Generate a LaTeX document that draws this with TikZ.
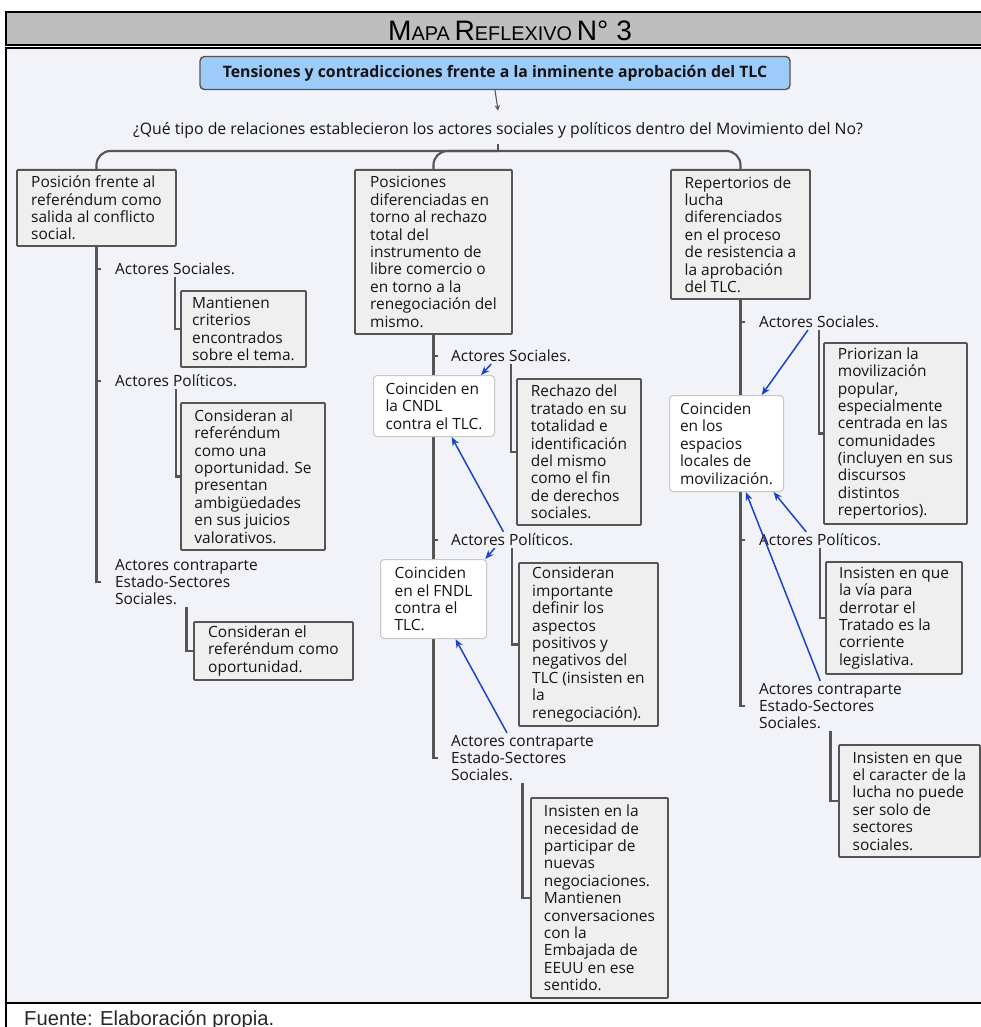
\documentclass[tikz,border=0pt]{standalone}
\usepackage{fontspec}
\setmainfont{Open Sans}
\newfontfamily\titulofont{Liberation Sans}
\usetikzlibrary{arrows.meta}

\definecolor{fondo}{HTML}{F2F3F8}
\definecolor{gristit}{HTML}{BEBEBE}
\definecolor{linea}{HTML}{555555}
\definecolor{cajagris}{HTML}{EFEFEF}
\definecolor{cajaazul}{HTML}{9DCBFA}
\definecolor{azulflecha}{HTML}{1A44C8}

\newcommand{\cuerpo}{\fontsize{8.8}{9.9}\selectfont}
\newcommand{\versal}[2]{{\fontsize{16}{16}\selectfont #1}{\fontsize{11.3}{11}\selectfont #2}}

\tikzset{
	caja/.style 2 args={draw=linea, line width=1.1pt, fill=cajagris, rounded corners=0.6pt,
		align=left, anchor=north west, inner sep=0pt,
		minimum width=#1*0.02cm, minimum height=#2*0.02cm},
	coincide/.style 2 args={caja={#1}{#2}, draw=black!22, line width=0.6pt, fill=white, rounded corners=2pt},
	actor/.style={align=left, anchor=west, inner sep=1pt},
	rama/.style={draw=linea, line width=1.2pt},
	flecha/.style={draw=azulflecha, line width=0.85pt, -{Stealth[length=5pt,width=4pt]}},
}

\begin{document}
\begin{tikzpicture}[x=0.02cm, y=-0.02cm, every node/.style={font=\cuerpo, text=black!92}]
	\useasboundingbox (0,0) rectangle (980,1027);
	% marco
	\draw[line width=0.8pt, fill=gristit] (6,12) rectangle (995,45);
	\draw[line width=0.8pt, fill=fondo] (6,48) rectangle (995,1003);
	\draw[line width=1.4pt] (6,1003) -- (995,1003);
	\draw[line width=0.8pt] (6,1003) -- (6,1030);
	\node[anchor=base, font=\titulofont, text=black] (titulo) at (510,40.5)
		{\versal{M}{APA} \versal{R}{EFLEXIVO} {\fontsize{16}{16}\selectfont N° 3}};
	\node[anchor=base west, font=\titulofont\fontsize{11.5}{12}\selectfont, text=black!85] (fuente) at (18,1025)
		{Fuente: Elaboración propia.};

	% tema y pregunta
	\node[draw=linea, line width=0.8pt, fill=cajaazul, rounded corners=2.5pt, font=\fontsize{9}{10}\selectfont\bfseries,
		minimum width=590*0.02cm, minimum height=33*0.02cm] (tema) at (495,73)
		{Tensiones y contradicciones frente a la inminente aprobación del TLC};
	\node[font=\fontsize{9}{10}\selectfont] (preg) at (498,130) {¿Qué tipo de relaciones establecieron los actores sociales y políticos dentro del Movimiento del No?};
	\draw[rama, line width=0.6pt, -{Stealth[length=3pt,width=3pt]}] (tema.south) -- ([yshift=3pt]preg.north);
	\coordinate (nudo) at (498,151);

	% cajas de primer nivel
	\node[caja={159}{76}] (pos) at (16,169) {Posición frente al\\referéndum como\\salida al conflicto\\social.};
	\node[caja={157}{164}] (dif) at (354,169) {Posiciones\\diferenciadas en\\torno al rechazo\\total del\\instrumento de\\libre comercio o\\en torno a la\\renegociación del\\mismo.};
	\node[caja={139}{129}] (rep) at (670,169) {Repertorios de\\lucha\\diferenciados\\en el proceso\\de resistencia a\\la aprobación\\del TLC.};
	\draw[rama] (preg.south) -- (nudo);
	\foreach \b in {pos,dif,rep}
		\draw[rama, rounded corners=8pt] (nudo) -| (\b.north);

	% actores
	\node[actor] (ls) at (113,269) {Actores Sociales.};
	\node[actor] (lp) at (113,381) {Actores Políticos.};
	\node[actor] (lk) at (113,582) {Actores contraparte\\Estado-Sectores\\Sociales.};
	\node[actor] (ms) at (449,356) {Actores Sociales.};
	\node[actor] (mp) at (449,540) {Actores Políticos.};
	\node[actor] (mk) at (449,758) {Actores contraparte\\Estado-Sectores\\Sociales.};
	\node[actor] (rs) at (757,322) {Actores Sociales.};
	\node[actor] (rp) at (757,540) {Actores Políticos.};
	\node[actor] (rk) at (757,706) {Actores contraparte\\Estado-Sectores\\Sociales.};
	\draw[rama] (pos.south) -- (pos.south |- lk.west) -- ++(5,0);
	\draw[rama] (dif.south) -- (dif.south |- mk.west) -- ++(5,0);
	\draw[rama] (rep.south) -- (rep.south |- rk.west) -- ++(5,0);
	\foreach \a/\b in {ls/pos,lp/pos,ms/dif,mp/dif,rs/rep,rp/rep}
		\draw[rama] (\b.south |- \a.west) -- ++(5,0);

	% explicaciones
	\node[caja={125}{76}] (l1) at (180,290) {Mantienen\\criterios\\encontrados\\sobre el tema.};
	\node[caja={144}{147}] (l2) at (180,402) {Consideran al\\referéndum\\como una\\oportunidad. Se\\presentan\\ambigüedades\\en sus juicios\\valorativos.};
	\node[caja={159}{58}] (l3) at (193,621) {Consideran el\\referéndum como\\oportunidad.};
	\node[caja={124}{146}] (m1) at (516,378) {Rechazo del\\tratado en su\\totalidad e\\identificación\\del mismo\\como el fin\\de derechos\\sociales.};
	\node[caja={139}{163}] (m2) at (518,562) {Consideran\\importante\\definir los\\aspectos\\positivos y\\negativos del\\TLC (insisten en\\la\\renegociación).};
	\node[caja={137}{200}] (m3) at (530,797) {Insisten en la\\necesidad de\\participar de\\nuevas\\negociaciones.\\Mantienen\\conversaciones\\con la\\Embajada de\\EEUU en ese\\sentido.};
	\node[caja={143}{181}] (r1) at (823,342) {Priorizan la\\movilización\\popular,\\especialmente\\centrada en las\\comunidades\\(incluyen en sus\\discursos\\distintos\\repertorios).};
	\node[caja={136}{112}] (r2) at (825,561) {Insisten en que\\la vía para\\derrotar el\\Tratado es la\\corriente\\legislativa.};
	\node[caja={141}{112}] (r3) at (838,744) {Insisten en que\\el caracter de la\\lucha no puede\\ser solo de\\sectores\\sociales.};
	\foreach \a/\b in {ls/l1,lp/l2,lk/l3,ms/m1,mp/m2,mk/m3,rs/r1,rp/r2,rk/r3}
		\draw[rama] (\a.south) |- (\b.west);

	% coincidencias
	\node[coincide={121}{61}] (cndl) at (373,375) {Coinciden en\\la CNDL\\contra el TLC.};
	\node[coincide={106}{79}] (fndl) at (380,559) {Coinciden\\en el FNDL\\contra el\\TLC.};
	\node[coincide={114}{96}] (local) at (669,395) {Coinciden\\en los\\espacios\\locales de\\movilización.};
	\draw[flecha] ([xshift=24pt]ms.south west) -- ([xshift=-8pt]cndl.north east);
	\draw[flecha] ([xshift=31pt]mp.north west) -- ([xshift=10pt]cndl.south);
	\draw[flecha] ([xshift=26pt]mp.south west) -- ([xshift=-1pt]fndl.north east);
	\draw[flecha] ([xshift=33pt]mk.north west) -- ([xshift=12.5pt]fndl.south);
	\draw[flecha] ([xshift=29pt]rs.south west) -- ([xshift=20pt]local.north);
	\draw[flecha] ([xshift=28pt]rp.north west) -- ([xshift=-6pt]local.south east);
	\draw[flecha] ([xshift=36pt]rk.north west) -- ([xshift=11pt]local.south);
\end{tikzpicture}
\end{document}
